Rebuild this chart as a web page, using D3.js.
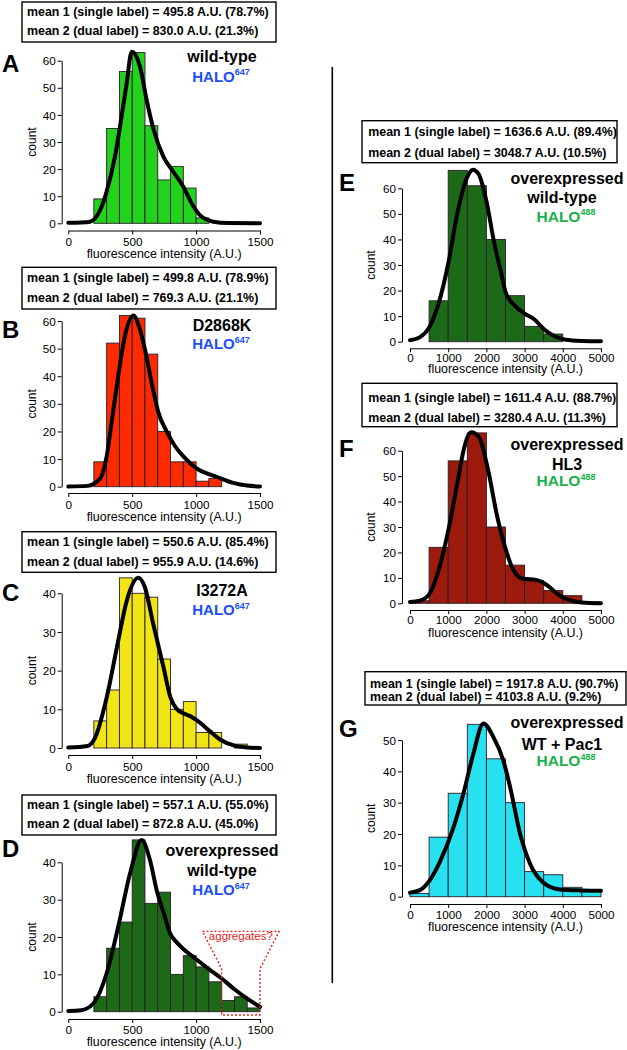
<!DOCTYPE html>
<html><head><meta charset="utf-8">
<script src="https://cdn.jsdelivr.net/npm/d3@7"></script>
<style>body{margin:0;background:#fff}svg{display:block;font-family:"Liberation Sans",Arial,sans-serif}</style>
</head><body><svg id="c" width="627" height="1050"></svg>
<script>
// ---------- data ----------
const xTicksLow = [0, 500, 1000, 1500];
const xTicksHigh = [0, 1000, 2000, 3000, 4000, 5000];
const yTicks60 = [0, 10, 20, 30, 40, 50, 60];
const yTicks50 = [0, 10, 20, 30, 40, 50];
const yTicks40 = [0, 10, 20, 30, 40];

// histogram counts (bins start at 0; width 100 for A-D, 500 for E-G)
const countsA = [0, 0, 9, 35, 56, 63, 36, 16, 21, 13, 2, 0, 0, 0, 0];
const countsB = [0, 0, 9, 52, 62, 61, 48, 20, 9, 9, 2, 3, 0, 0, 0];
const countsC = [0, 0, 7, 15, 44, 40, 39, 23, 10, 12, 4, 4, 0, 1, 0];
const countsD = [0, 0, 4, 17, 24, 46, 29, 32, 10, 15, 12, 8, 3, 4, 1];
const countsE = [0, 16, 67, 61, 40, 18, 6, 3, 0, 0];
const countsF = [1, 22, 56, 67, 30, 15, 9, 5, 3, 0];
const countsG = [1, 19, 33, 55, 44, 30, 8, 7, 3, 2];

// fitted curves: [intensity, count]
const curveA = [[0,0.2],[100,0.3],[170,0.6],[250,5],[300,11.7],[365,24.6],[417,39.4],[457,51.7],[496,63.3],[561,57.8],[613,45.5],[665,35],[744,24.6],[822,19],[900,13.5],[965,7.4],[1030,3],[1135,0.6],[1250,0.1],[1500,0]];
const curveB = [[0,0.1],[150,0.3],[250,3],[300,11],[350,27],[400,43],[450,56],[509,62],[560,57],[608,48],[655,37],[704,27],[770,20],[830,15],[900,11],[1004,6.6],[1161,3.6],[1291,1.4],[1400,0.4],[1500,0.1]];
const curveC = [[0,0.1],[150,0.5],[209,2.6],[300,13],[391,27.8],[457,38],[548,44],[600,41.5],[665,32],[744,21],[800,13],[850,10],[900,9],[950,8.3],[1004,7.2],[1109,4.3],[1187,2.2],[1300,0.6],[1400,0.15],[1500,0]];
const curveD = [[0,0.2],[100,0.4],[196,2.2],[300,10.3],[391,22.8],[483,37],[574,46],[639,40.6],[691,32.6],[750,26],[796,21],[850,18.5],[900,16.8],[991,14.3],[1100,11.4],[1200,8.9],[1300,6],[1400,3.5],[1500,1.3]];
const curveE = [[0,0.6],[250,1.7],[500,5.5],[750,15],[1000,30.5],[1250,51],[1500,64.5],[1650,67.3],[1800,65.5],[2000,55],[2200,39],[2400,26],[2500,19.5],[2750,14],[3000,11],[3250,8.8],[3500,5],[3750,2.4],[4000,1],[4250,0.5],[4500,0.3],[5000,0.2]];
const curveF = [[0,0.5],[250,1],[500,3.5],[750,13],[1000,28.5],[1250,48],[1400,60],[1600,67.3],[1800,65.5],[2050,52],[2270,35],[2490,22],[2700,13.3],[2950,9.7],[3300,9.2],[3580,7.2],[3840,3.9],[4000,2.4],[4280,0.8],[4500,0.3],[5000,0]];
const curveG = [[0,1.3],[260,2.1],[520,5.3],[785,11.2],[1130,21.8],[1400,33],[1660,45.7],[1920,55.3],[2180,51],[2440,43.6],[2620,35],[2880,20.2],[3140,10.6],[3490,4.5],[3930,2.3],[4500,2],[5000,1.9]];

const meansA = ["mean 1 (single label) = 495.8 A.U. (78.7%)", "mean 2 (dual label) = 830.0 A.U. (21.3%)"];
const meansB = ["mean 1 (single label) = 499.8 A.U. (78.9%)", "mean 2 (dual label) = 769.3 A.U. (21.1%)"];
const meansC = ["mean 1 (single label) = 550.6 A.U. (85.4%)", "mean 2 (dual label) = 955.9 A.U. (14.6%)"];
const meansD = ["mean 1 (single label) = 557.1 A.U. (55.0%)", "mean 2 (dual label) = 872.8 A.U. (45.0%)"];
const meansE = ["mean 1 (single label) = 1636.6 A.U. (89.4%)", "mean 2 (dual label) = 3048.7 A.U. (10.5%)"];
const meansF = ["mean 1 (single label) = 1611.4 A.U. (88.7%)", "mean 2 (dual label) = 3280.4 A.U. (11.3%)"];
const meansG = ["mean 1 (single label) = 1917.8 A.U. (90.7%)", "mean 2 (dual label) = 4103.8 A.U. (9.2%)"];

// aggregates annotation outline (intensity, count) for panel D
const aggregatesOutline = [[1050,21.5],[1650,21.5],[1500,11.5],[1500,-0.9],[1200,-0.9],[1200,11.5]];

// ---------- layout ----------
const L = {x0:68.3, x1:260, yAxisX:61.7, countX:32, letterX:2, boxX:22, boxW:254, textX:27, titleX:222};
const R = {x0:410, x1:601, yAxisX:402, countX:371, letterX:339, boxX:362, boxW:255, textX:368.3, titleX:567};

const panels = [
 {side:L, letter:'A', counts:countsA, binW:100, xMax:1500, xTicks:xTicksLow, yTicks:yTicks60, curve:curveA, color:'#22d21c', means:meansA,
  y0:223.3, yTop:60.7, axisY:230.5, lblY:242, ttlY:254, letterY:71.5,
  titles:[{t:'wild-type', y:61.7}], halo:{sup:'647', y:81.7, color:'#1b4dff'},
  box:{y:2, h:40, l1:11.7, l2:31}},
 {side:L, letter:'B', counts:countsB, binW:100, xMax:1500, xTicks:xTicksLow, yTicks:yTicks60, curve:curveB, color:'#ff2a00', means:meansB,
  y0:486.7, yTop:321, axisY:493, lblY:505, ttlY:516.7, letterY:338,
  titles:[{t:'D2868K', y:330.7}], halo:{sup:'647', y:349.3, color:'#1b4dff'},
  box:{y:267.3, h:41.7, l1:278, l2:298}},
 {side:L, letter:'C', counts:countsC, binW:100, xMax:1500, xTicks:xTicksLow, yTicks:yTicks40, curve:curveC, color:'#f2e515', means:meansC,
  y0:748, yTop:593.3, axisY:755, lblY:767, ttlY:779, letterY:601,
  titles:[{t:'I3272A', y:596}], halo:{sup:'647', y:615, color:'#1b4dff'},
  box:{y:531.7, h:40.6, l1:541.7, l2:561.7}},
 {side:L, letter:'D', counts:countsD, binW:100, xMax:1500, xTicks:xTicksLow, yTicks:yTicks40, curve:curveD, color:'#1c6a18', means:meansD,
  y0:1011.7, yTop:862.3, axisY:1019, lblY:1030, ttlY:1041.7, letterY:857,
  titles:[{t:'overexpressed', y:856},{t:'wild-type', y:876}], halo:{sup:'647', y:895, color:'#1b4dff'},
  box:{y:795, h:40, l1:805, l2:824}, aggregates:true},
 {side:R, letter:'E', counts:countsE, binW:500, xMax:5000, xTicks:xTicksHigh, yTicks:yTicks60, curve:curveE, color:'#1c6a18', means:meansE,
  y0:341.7, yTop:188.3, axisY:348.3, lblY:357.5, ttlY:368.5, letterY:191,
  titles:[{t:'overexpressed', y:184},{t:'wild-type', y:203.3, dx:-5}], halo:{sup:'488', y:221.5, color:'#17b04a'},
  box:{y:120.7, h:42, l1:132, l2:153}},
 {side:R, letter:'F', counts:countsF, binW:500, xMax:5000, xTicks:xTicksHigh, yTicks:yTicks60, curve:curveF, color:'#9c1b0c', means:meansF,
  y0:603.3, yTop:450.7, axisY:610, lblY:620, ttlY:633, letterY:456.5,
  titles:[{t:'overexpressed', y:450},{t:'HL3', y:470}], halo:{sup:'488', y:486, color:'#17b04a'},
  box:{y:383.3, h:43.4, l1:397.7, l2:417.7}},
 {side:R, letter:'G', counts:countsG, binW:500, xMax:5000, xTicks:xTicksHigh, yTicks:yTicks50, curve:curveG, color:'#27e0f0', means:meansG,
  y0:896.7, yTop:740, axisY:904, lblY:915, ttlY:927, letterY:736.5,
  titles:[{t:'overexpressed', y:728.3},{t:'WT + Pac1', y:750, dx:-5}], halo:{sup:'488', y:766, color:'#17b04a'},
  box:{y:671.7, h:33.3, l1:683.3, l2:697, x:365, w:261, tx:370}},
];

const svg = d3.select('#c');
const FONT = '"Liberation Sans", Arial, sans-serif';

// vertical separator
svg.append('line').attr('x1',332.3).attr('x2',332.3).attr('y1',67).attr('y2',983)
  .attr('stroke','#000').attr('stroke-width',1.6);

panels.forEach(p => {
  const s = p.side;
  const g = svg.append('g');
  const x = d3.scaleLinear().domain([0, p.xMax]).range([s.x0, s.x1]);
  const yMax = p.yTicks[p.yTicks.length-1];
  const y = d3.scaleLinear().domain([0, yMax]).range([p.y0, p.yTop]);

  // bars
  const bins = p.counts.map((c,i)=>({c, lo:i*p.binW, hi:(i+1)*p.binW})).filter(d=>d.c>0);
  g.selectAll('rect.bar').data(bins).join('rect').attr('class','bar')
    .attr('x', d=>x(d.lo)).attr('width', d=>x(d.hi)-x(d.lo))
    .attr('y', d=>y(d.c)).attr('height', d=>y(0)-y(d.c))
    .attr('fill', p.color).attr('stroke','#2a1f2a').attr('stroke-width',0.9);

  // fitted curve
  const line = d3.line().x(d=>x(d[0])).y(d=>y(d[1])).curve(d3.curveMonotoneX);
  g.append('path').attr('d', line(p.curve)).attr('fill','none')
    .attr('stroke','#000').attr('stroke-width',4).attr('stroke-linecap','round').attr('stroke-linejoin','round');

  // aggregates annotation
  if (p.aggregates) {
    g.append('path').attr('d', d3.line().x(d=>x(d[0])).y(d=>y(d[1]))(aggregatesOutline) + 'Z')
      .attr('fill','none').attr('stroke','#e8241c').attr('stroke-width',1.4).attr('stroke-dasharray','2,2');
    g.append('text').attr('x', x(1350)).attr('y', y(19.2)).attr('text-anchor','middle')
      .attr('font-size',11.5).attr('fill','#e8241c').style('font-family',FONT).text('aggregates?');
  }

  // x axis
  const xa = g.append('g').attr('transform',`translate(0,${p.axisY})`)
    .call(d3.axisBottom(x).tickValues(p.xTicks).tickFormat(d3.format('d')).tickSize(4).tickSizeOuter(0));
  xa.selectAll('text').attr('y', p.lblY - p.axisY).attr('dy','0.35em')
    .attr('font-size',11.7).style('font-family',FONT).attr('fill','#000');
  xa.selectAll('line,path').attr('stroke','#000').attr('stroke-width',1);
  g.append('text').attr('x',(s.x0+s.x1)/2).attr('y',p.ttlY).attr('dy','0.35em')
    .attr('text-anchor','middle').attr('font-size',12.4).style('font-family',FONT)
    .text('fluorescence intensity (A.U.)');

  // y axis
  const ya = g.append('g').attr('transform',`translate(${s.yAxisX},0)`)
    .call(d3.axisLeft(y).tickValues(p.yTicks).tickFormat(d3.format('d')).tickSize(4).tickSizeOuter(0));
  ya.selectAll('text').attr('x',-6).attr('dy','0.35em')
    .attr('font-size',11.7).style('font-family',FONT).attr('fill','#000');
  ya.selectAll('line,path').attr('stroke','#000').attr('stroke-width',1);
  g.append('text').attr('transform',`translate(${s.countX},${(p.y0+p.yTop)/2}) rotate(-90)`)
    .attr('dy','0.35em').attr('text-anchor','middle').attr('font-size',12)
    .style('font-family',FONT).text('count');

  // panel letter
  g.append('text').attr('x', s.letterX).attr('y', p.letterY).attr('font-size',24)
    .attr('font-weight','bold').style('font-family',FONT).text(p.letter);

  // titles
  p.titles.forEach(t => {
    g.append('text').attr('x', s.titleX + (t.dx||0)).attr('y', t.y)
      .attr('text-anchor','middle').attr('font-size',16).attr('font-weight','bold')
      .style('font-family',FONT).text(t.t);
  });
  const ht = g.append('text').attr('x', s.titleX - 1).attr('y', p.halo.y).attr('text-anchor','middle')
    .attr('font-weight','bold').attr('fill', p.halo.color).style('font-family',FONT);
  ht.append('tspan').attr('font-size', s===L?15:15.5).text('HALO');
  ht.append('tspan').attr('font-size', 9).attr('dy',-6.5).text(p.halo.sup);

  // mean box
  const bx = p.box.x ?? s.boxX, bw = p.box.w ?? s.boxW, tx = p.box.tx ?? s.textX;
  g.append('rect').attr('x',bx).attr('y',p.box.y).attr('width',bw).attr('height',p.box.h)
    .attr('fill','#fff').attr('stroke','#000').attr('stroke-width',1.4);
  [p.box.l1, p.box.l2].forEach((ly,i) => {
    g.append('text').attr('x',tx).attr('y',ly).attr('dy','0.35em')
      .attr('font-size',12.4).attr('font-weight','bold').style('font-family',FONT)
      .text(p.means[i]);
  });
});
</script></body></html>
